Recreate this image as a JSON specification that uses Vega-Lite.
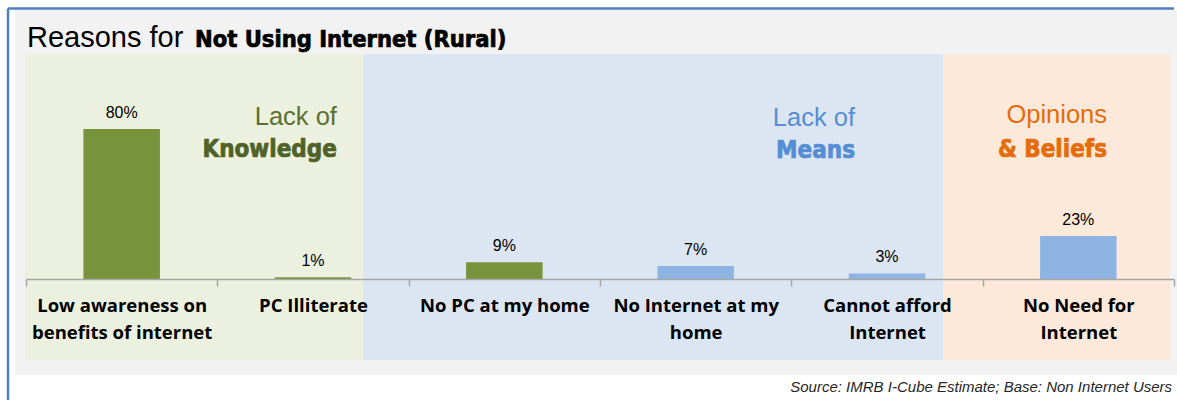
{
  "$schema": "https://vega.github.io/schema/vega-lite/v6.json",
  "width": 1148,
  "height": 225,
  "autosize": "none",
  "padding": {"left": 26, "top": 54, "right": 3, "bottom": 121},
  "background": "#ffffff",
  "config": {"view": {"stroke": null}},
  "datasets": {
    "reasons": [
      {"reason": "Low awareness on benefits of internet", "share": 0.80, "group": "Lack of Knowledge"},
      {"reason": "PC Illiterate", "share": 0.01, "group": "Lack of Knowledge"},
      {"reason": "No PC at my home", "share": 0.09, "group": "Lack of Means"},
      {"reason": "No Internet at my home", "share": 0.07, "group": "Lack of Means"},
      {"reason": "Cannot afford Internet", "share": 0.03, "group": "Lack of Means"},
      {"reason": "No Need for Internet", "share": 0.23, "group": "Opinions & Beliefs"}
    ],
    "regions": [
      {"region": "frame", "u0": -0.057, "u1": 6.016, "v0": -0.512, "v1": 1.435},
      {"region": "Knowledge", "u0": -0.005, "u1": 1.761, "v0": -0.432, "v1": 1.2},
      {"region": "Means", "u0": 1.761, "u1": 4.793, "v0": -0.432, "v1": 1.2},
      {"region": "Beliefs", "u0": 4.793, "u1": 5.979, "v0": -0.432, "v1": 1.2}
    ],
    "borders": [
      {"edge": "left", "u0": -0.094, "u1": -0.094, "v0": 1.443, "v1": -0.66},
      {"edge": "top", "u0": -0.094, "u1": 6.0, "v0": 1.443, "v1": 1.443}
    ],
    "notes": [
      {"text": "Reasons for", "role": "title-light", "grp": "title", "u": 0.005, "v": 1.235},
      {"text": "Not Using Internet (Rural)", "role": "title-bold", "grp": "title", "u": 0.883, "v": 1.235},
      {"text": "Lack of", "role": "group-light", "grp": "Knowledge", "u": 1.625, "v": 0.821},
      {"text": "Knowledge", "role": "group-bold", "grp": "Knowledge", "u": 1.625, "v": 0.651},
      {"text": "Lack of", "role": "group-light", "grp": "Means", "u": 4.333, "v": 0.816},
      {"text": "Means", "role": "group-bold", "grp": "Means", "u": 4.333, "v": 0.645},
      {"text": "Opinions", "role": "group-light", "grp": "Beliefs", "u": 5.65, "v": 0.832},
      {"text": "& Beliefs", "role": "group-bold", "grp": "Beliefs", "u": 5.65, "v": 0.651},
      {"text": "Source: IMRB I-Cube Estimate; Base: Non Internet Users", "role": "source", "grp": "source", "u": 5.99, "v": -0.603}
    ]
  },
  "layer": [
    {
      "data": {"name": "regions"},
      "mark": {"type": "rect"},
      "encoding": {
        "x": {"field": "u0", "type": "quantitative", "scale": {"domain": [0, 6], "nice": false, "zero": false}, "axis": null},
        "x2": {"field": "u1"},
        "y": {"field": "v0", "type": "quantitative", "scale": {"domain": [0, 1.2], "nice": false, "zero": false}, "axis": null},
        "y2": {"field": "v1"},
        "color": {"field": "region", "type": "nominal", "scale": {"domain": ["frame", "Knowledge", "Means", "Beliefs"], "range": ["#f2f2f2", "#ebf1de", "#dce6f2", "#fde9d9"]}, "legend": null}
      }
    },
    {
      "data": {"name": "borders"},
      "mark": {"type": "rule", "color": "#4f81bd", "strokeWidth": 2.5},
      "encoding": {
        "x": {"field": "u0", "type": "quantitative", "scale": {"domain": [0, 6], "nice": false, "zero": false}, "axis": null},
        "x2": {"field": "u1"},
        "y": {"field": "v0", "type": "quantitative", "scale": {"domain": [0, 1.2], "nice": false, "zero": false}, "axis": null},
        "y2": {"field": "v1"}
      }
    },
    {
      "data": {"name": "notes"},
      "transform": [{"filter": "datum.role == 'title-light'"}],
      "mark": {"type": "text", "align": "left", "baseline": "alphabetic", "font": "Liberation Sans", "fontSize": 29, "color": "#000000"},
      "encoding": {
        "x": {"field": "u", "type": "quantitative", "scale": {"domain": [0, 6], "nice": false, "zero": false}, "axis": null},
        "y": {"field": "v", "type": "quantitative", "scale": {"domain": [0, 1.2], "nice": false, "zero": false}, "axis": null},
        "text": {"field": "text"}
      }
    },
    {
      "data": {"name": "notes"},
      "transform": [{"filter": "datum.role == 'title-bold'"}],
      "mark": {"type": "text", "align": "left", "baseline": "alphabetic", "font": "DejaVu Sans Condensed", "fontWeight": "bold", "fontSize": 23.5, "color": "#000000", "stroke": "#000000", "strokeWidth": 0.7},
      "encoding": {
        "x": {"field": "u", "type": "quantitative", "scale": {"domain": [0, 6], "nice": false, "zero": false}, "axis": null},
        "y": {"field": "v", "type": "quantitative", "scale": {"domain": [0, 1.2], "nice": false, "zero": false}, "axis": null},
        "text": {"field": "text"}
      }
    },
    {
      "data": {"name": "notes"},
      "transform": [{"filter": "datum.role == 'group-light'"}],
      "mark": {"type": "text", "align": "right", "baseline": "alphabetic", "font": "Liberation Sans", "fontSize": 25.5},
      "encoding": {
        "x": {"field": "u", "type": "quantitative", "scale": {"domain": [0, 6], "nice": false, "zero": false}, "axis": null},
        "y": {"field": "v", "type": "quantitative", "scale": {"domain": [0, 1.2], "nice": false, "zero": false}, "axis": null},
        "text": {"field": "text"},
        "color": {"field": "grp", "type": "nominal", "scale": {"domain": ["Knowledge", "Means", "Beliefs"], "range": ["#5a7031", "#558ed5", "#e46c0a"]}, "legend": null}
      }
    },
    {
      "data": {"name": "notes"},
      "transform": [{"filter": "datum.role == 'group-bold'"}],
      "mark": {"type": "text", "align": "right", "baseline": "alphabetic", "font": "DejaVu Sans Condensed", "fontWeight": "bold", "fontSize": 24, "strokeWidth": 0.7},
      "encoding": {
        "x": {"field": "u", "type": "quantitative", "scale": {"domain": [0, 6], "nice": false, "zero": false}, "axis": null},
        "y": {"field": "v", "type": "quantitative", "scale": {"domain": [0, 1.2], "nice": false, "zero": false}, "axis": null},
        "text": {"field": "text"},
        "color": {"field": "grp", "type": "nominal", "scale": {"domain": ["Knowledge", "Means", "Beliefs"], "range": ["#4f6228", "#558ed5", "#e46c0a"]}, "legend": null},
        "stroke": {"field": "grp", "type": "nominal", "scale": {"domain": ["Knowledge", "Means", "Beliefs"], "range": ["#4f6228", "#558ed5", "#e46c0a"]}, "legend": null}
      }
    },
    {
      "data": {"name": "notes"},
      "transform": [{"filter": "datum.role == 'source'"}],
      "mark": {"type": "text", "align": "right", "baseline": "alphabetic", "font": "Liberation Sans", "fontStyle": "italic", "fontSize": 15, "color": "#262626"},
      "encoding": {
        "x": {"field": "u", "type": "quantitative", "scale": {"domain": [0, 6], "nice": false, "zero": false}, "axis": null},
        "y": {"field": "v", "type": "quantitative", "scale": {"domain": [0, 1.2], "nice": false, "zero": false}, "axis": null},
        "text": {"field": "text"}
      }
    },
    {
      "data": {"name": "reasons"},
      "mark": {"type": "bar", "width": {"band": 0.4}},
      "encoding": {
        "x": {
          "field": "reason", "type": "nominal", "sort": null,
          "scale": {"paddingInner": 0, "paddingOuter": 0},
          "axis": {
            "orient": "bottom", "zindex": 2,
            "title": null, "labelAngle": 0, "labelFont": "Open Sans", "labelFontWeight": "bold", "labelFontSize": 18.5,
            "labelColor": "#000000", "labelLineHeight": 27, "labelPadding": 10, "labelLimit": 0,
            "domainColor": "#a6a6a6", "domainWidth": 1.5, "tickColor": "#a6a6a6", "tickSize": 7, "tickWidth": 1.5, "tickBand": "extent",
            "labelExpr": "datum.value == 'Low awareness on benefits of internet' ? ['Low awareness on', 'benefits of internet'] : datum.value == 'No Internet at my home' ? ['No Internet at my', 'home'] : datum.value == 'Cannot afford Internet' ? ['Cannot afford', 'Internet'] : datum.value == 'No Need for Internet' ? ['No Need for', 'Internet'] : datum.value"
          }
        },
        "y": {"field": "share", "type": "quantitative", "scale": {"domain": [0, 1.2], "nice": false, "zero": false}, "axis": null},
        "color": {
          "field": "reason", "type": "nominal",
          "scale": {
            "domain": ["Low awareness on benefits of internet", "PC Illiterate", "No PC at my home", "No Internet at my home", "Cannot afford Internet", "No Need for Internet"],
            "range": ["#77933c", "#77933c", "#77933c", "#8eb4e3", "#8eb4e3", "#8eb4e3"]
          },
          "legend": null
        }
      }
    },
    {
      "data": {"name": "reasons"},
      "mark": {"type": "text", "baseline": "alphabetic", "dy": -11, "font": "Liberation Sans", "fontSize": 16, "color": "#000000"},
      "encoding": {
        "x": {"field": "reason", "type": "nominal", "sort": null, "scale": {"paddingInner": 0, "paddingOuter": 0}, "axis": null},
        "y": {"field": "share", "type": "quantitative", "scale": {"domain": [0, 1.2], "nice": false, "zero": false}, "axis": null},
        "text": {"field": "share", "type": "quantitative", "format": ".0%"}
      }
    }
  ],
  "resolve": {"scale": {"x": "independent", "y": "independent", "color": "independent", "stroke": "independent"}}
}
